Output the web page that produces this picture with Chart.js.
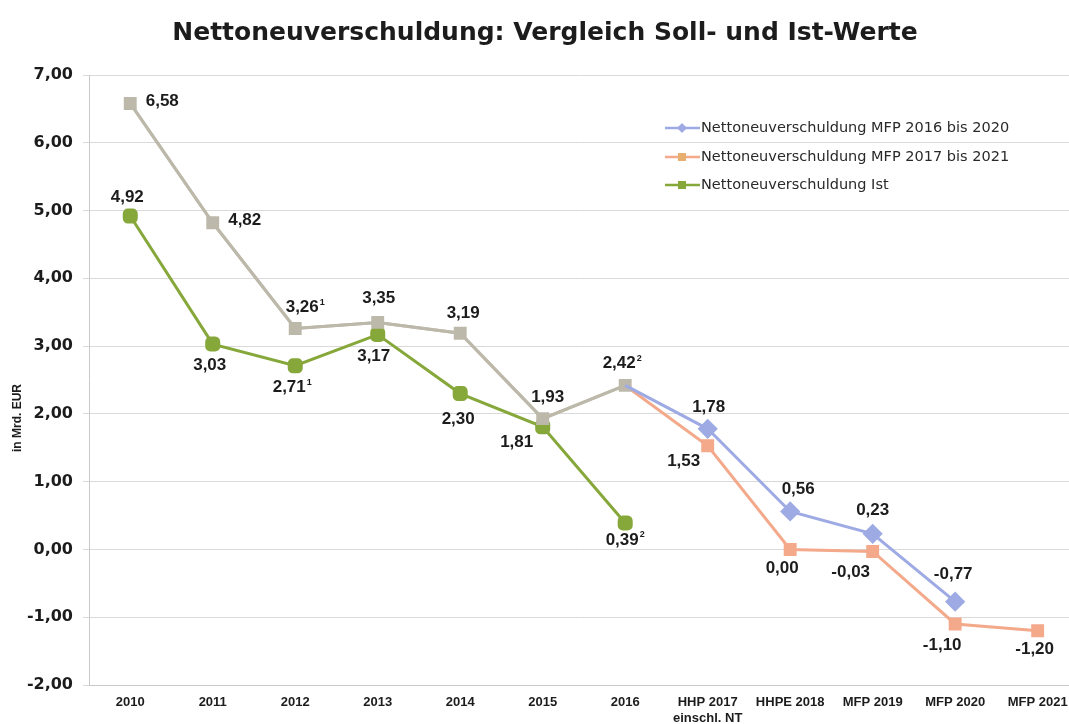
<!DOCTYPE html>
<html lang="de">
<head>
<meta charset="utf-8">
<title>Nettoneuverschuldung</title>
<script src="https://cdn.jsdelivr.net/npm/chart.js@4/dist/chart.umd.min.js"></script>
<style>
  html, body { margin: 0; padding: 0; background: #fff; overflow: hidden; }
  #chart { display: block; }
</style>
</head>
<body>
<canvas id="chart" width="1069" height="724"></canvas>
<script>
// Daten
const categories = ['2010', '2011', '2012', '2013', '2014', '2015', '2016',
    ['HHP 2017', 'einschl. NT'], 'HHPE 2018', 'MFP 2019', 'MFP 2020', 'MFP 2021'];
const mfp2016bis2020 = [6.58, 4.82, 3.26, 3.35, 3.19, 1.93, 2.42, 1.78, 0.56, 0.23, -0.77, null];
const mfp2017bis2021 = [6.58, 4.82, 3.26, 3.35, 3.19, 1.93, 2.42, 1.53, 0.00, -0.03, -1.10, -1.20];
const istWerte = [4.92, 3.03, 2.71, 3.17, 2.30, 1.81, 0.39, null, null, null, null, null];
const sollFussnoten = ['', '', '1', '', '', '', '2', '', '', '', '', ''];
const istFussnoten = ['', '', '1', '', '', '', '2'];
const lastIstIndex = 6;   // bis 2016 sind Soll-Werte beider MFP identisch (grau)

// Farben
const GREY = '#bdb9aa';
const BLUE = '#9eaae4';
const ORANGE = '#f3a98a';
const GREEN = '#86a73a';
const FONT = '"Liberation Sans", Arial, sans-serif';
const WIDE = '"DejaVu Sans", sans-serif';

// Label-Versatz [dx, dy] relativ zum Punkt, null = kein Label
const blueLabelPos = [null, null, null, null, null, null, null, [1, -21], [8, -22], [0, -24], [-2, -27], null];
const orangeLabelPos = [[32, -2], [32, -2], [10, -21], [1, -24], [3, -20], [5, -21], [-3, -22],
    [-24, 16], [-8, 19], [-22, 21], [-13, 21], [-3, 19]];
const greenLabelPos = [[-3, -19], [-3, 21], [-3, 22], [-4, 22], [-2, 26], [-26, 16], [0, 17]];

function fmt(v) {
    return v.toFixed(2).replace('.', ',');
}

function toPoints(values) {
    return values.map((v, i) => ({ x: i, y: v }));
}

function perPoint(data, sollColor, color) {
    return data.map((v, i) => i <= lastIstIndex ? sollColor : color);
}

// Titel, Wertebeschriftungen
const valueLabels = {
    id: 'valueLabels',
    afterDatasetsDraw(chart) {
        const ctx = chart.ctx;
        ctx.save();
        ctx.fillStyle = '#1c1c1c';
        ctx.textBaseline = 'middle';
        ctx.textAlign = 'center';
        ctx.font = 'bold 25px ' + WIDE;
        ctx.fillText('Nettoneuverschuldung: Vergleich Soll- und Ist-Werte', 545, 33);

        chart.data.datasets.forEach((ds, di) => {
            const meta = chart.getDatasetMeta(di);
            ds.data.forEach((p, i) => {
                const pos = ds.labelPos[i];
                if (p.y === null || !pos) return;
                const el = meta.data[i];
                const main = fmt(p.y);
                const sup = (ds.footnotes && ds.footnotes[i]) || '';
                ctx.font = 'bold 17px ' + FONT;
                const w1 = ctx.measureText(main).width;
                ctx.font = 'bold 9px ' + FONT;
                const w2 = sup ? ctx.measureText(sup).width + 1 : 0;
                const x0 = el.x + pos[0] - (w1 + w2) / 2;
                const y0 = el.y + pos[1];
                ctx.textAlign = 'left';
                ctx.font = 'bold 17px ' + FONT;
                ctx.fillText(main, x0, y0);
                if (sup) {
                    ctx.font = 'bold 9px ' + FONT;
                    ctx.fillText(sup, x0 + w1 + 1, y0 - 5);
                }
            });
        });
        ctx.restore();
    }
};

// Legende im Diagramm + Achsentitel
const innerLegend = {
    id: 'innerLegend',
    afterDraw(chart) {
        const ctx = chart.ctx;
        ctx.save();
        const rows = [128, 157, 185];
        chart.data.datasets.forEach((ds, di) => {
            const y = rows[di];
            ctx.strokeStyle = ds.borderColor;
            ctx.lineWidth = 2.5;
            ctx.beginPath();
            ctx.moveTo(665, y);
            ctx.lineTo(700, y);
            ctx.stroke();
            ctx.fillStyle = ds.legendMarker;
            ctx.beginPath();
            if (ds.legendStyle === 'rectRot') {
                ctx.moveTo(682, y - 5); ctx.lineTo(687, y); ctx.lineTo(682, y + 5); ctx.lineTo(677, y);
            } else {
                ctx.rect(678, y - 4, 8, 8);
            }
            ctx.fill();
            ctx.fillStyle = '#2a2a2a';
            ctx.font = '14.5px ' + WIDE;
            ctx.textAlign = 'left';
            ctx.textBaseline = 'middle';
            ctx.fillText(ds.label, 701, y);
        });
        // Y-Achsentitel
        ctx.translate(18, 418);
        ctx.rotate(-Math.PI / 2);
        ctx.font = 'bold 12px ' + FONT;
        ctx.textAlign = 'center';
        ctx.textBaseline = 'middle';
        ctx.fillStyle = '#1c1c1c';
        ctx.fillText('in Mrd. EUR', 0, 0);
        ctx.restore();
    }
};

new Chart(document.getElementById('chart'), {
    type: 'line',
    data: {
        datasets: [
            {
                label: 'Nettoneuverschuldung MFP 2016 bis 2020',
                data: toPoints(mfp2016bis2020),
                borderColor: BLUE,
                borderWidth: 3,
                segment: { borderColor: c => c.p1DataIndex <= lastIstIndex ? GREY : BLUE },
                pointStyle: 'rectRot',
                pointRadius: mfp2016bis2020.map((v, i) => i <= lastIstIndex ? 0 : 8),
                pointBackgroundColor: BLUE,
                pointBorderColor: BLUE,
                legendMarker: BLUE,
                legendStyle: 'rectRot',
                labelPos: blueLabelPos,
                order: 0
            },
            {
                label: 'Nettoneuverschuldung MFP 2017 bis 2021',
                data: toPoints(mfp2017bis2021),
                borderColor: ORANGE,
                borderWidth: 3,
                segment: { borderColor: c => c.p1DataIndex <= lastIstIndex ? GREY : ORANGE },
                pointStyle: 'rect',
                pointRadius: 7,
                pointBackgroundColor: perPoint(mfp2017bis2021, GREY, ORANGE),
                pointBorderColor: perPoint(mfp2017bis2021, GREY, ORANGE),
                legendMarker: '#e8b070',
                legendStyle: 'rect',
                labelPos: orangeLabelPos,
                footnotes: sollFussnoten,
                order: 1
            },
            {
                label: 'Nettoneuverschuldung Ist',
                data: toPoints(istWerte),
                borderColor: GREEN,
                borderWidth: 3,
                pointStyle: 'rectRounded',
                pointRadius: 7,
                pointBackgroundColor: GREEN,
                pointBorderColor: GREEN,
                legendMarker: GREEN,
                legendStyle: 'rect',
                labelPos: greenLabelPos,
                footnotes: istFussnoten,
                order: 2
            }
        ]
    },
    options: {
        responsive: false,
        animation: false,
        layout: { autoPadding: false, padding: { left: 0, right: 0, top: 75, bottom: 0 } },
        plugins: {
            legend: { display: false },
            tooltip: { enabled: false },
            title: { display: false }
        },
        scales: {
            x: {
                type: 'linear',
                min: -0.5,
                max: 11.38,
                grid: { display: false, drawTicks: false },
                border: { display: true, color: '#c8c8c8', width: 1 },
                afterBuildTicks(scale) {
                    scale.ticks = categories.map((c, i) => ({ value: i }));
                },
                ticks: {
                    color: '#1c1c1c',
                    font: { family: FONT, size: 13, weight: 'bold' },
                    padding: 10,
                    maxRotation: 0,
                    autoSkip: false,
                    callback: v => categories[v]
                },
                afterFit(scale) {
                    scale.height = 39;
                    scale.paddingLeft = 0;
                    scale.paddingRight = 0;
                }
            },
            y: {
                min: -2,
                max: 7,
                ticks: {
                    stepSize: 1,
                    color: '#1c1c1c',
                    font: { family: WIDE, size: 16, weight: 'bold' },
                    padding: 10,
                    callback: v => fmt(v)
                },
                grid: { color: '#dadada', lineWidth: 1, tickLength: 6 },
                border: { display: true, color: '#c8c8c8', width: 1 },
                afterFit(scale) { scale.width = 89; }
            }
        }
    },
    plugins: [valueLabels, innerLegend]
});
</script>
</body>
</html>
